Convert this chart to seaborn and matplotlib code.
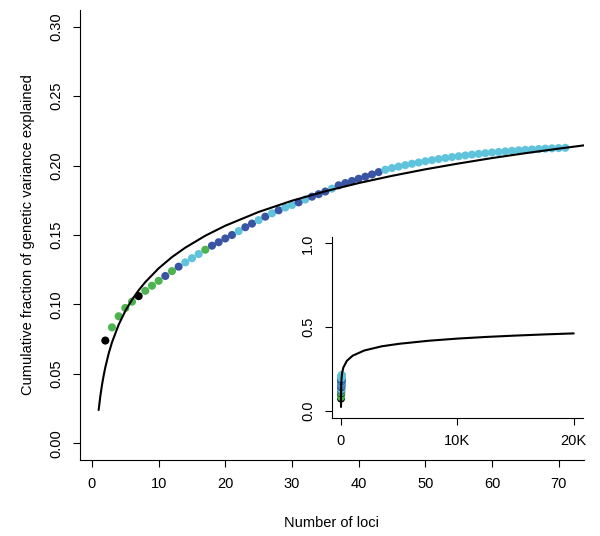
import pandas as pd
import matplotlib
matplotlib.use("Agg")
import matplotlib.pyplot as plt
import seaborn as sns

# loci ranked by effect, cumulative fraction of variance, colour group of each locus
loci = list(range(2, 72))
cum_frac = [0.0740, 0.0835, 0.0915, 0.0975, 0.1020, 0.1060, 0.1098, 0.1135, 0.1170, 0.1205,
            0.1240, 0.1272, 0.1303, 0.1333, 0.1363, 0.1394, 0.1423, 0.1448, 0.1475, 0.1500,
            0.1528, 0.1556, 0.1582, 0.1607, 0.1632, 0.1656, 0.1678, 0.1698, 0.1716, 0.1735,
            0.1756, 0.1776, 0.1794, 0.1813, 0.1834, 0.1858, 0.1874, 0.1889, 0.1905, 0.1920,
            0.1936, 0.1953, 0.1970, 0.1982, 0.1993, 0.2003, 0.2013, 0.2022, 0.2031, 0.2039,
            0.2047, 0.2054, 0.2061, 0.2067, 0.2073, 0.2079, 0.2084, 0.2089, 0.2094, 0.2098,
            0.2102, 0.2106, 0.2110, 0.2113, 0.2116, 0.2119, 0.2122, 0.2124, 0.2126, 0.2128]
groups = list("kggggkgggbgblllgbbbblbblblbllblbbblbbbbbbb"
              "llllllllllllllllllllllllllll")

# fitted curve
fit_x = [1, 1.25, 1.5, 1.75, 2, 2.5, 3, 4, 5, 6, 7, 8, 10, 12, 14, 17, 20, 25, 30, 35,
         40, 45, 50, 55, 60, 65, 70, 75]
fit_y = [0.0240, 0.0339, 0.0420, 0.0488, 0.0547, 0.0646, 0.0727, 0.0854, 0.0953, 0.1034,
         0.1102, 0.1161, 0.1260, 0.1341, 0.1409, 0.1495, 0.1567, 0.1666, 0.1747, 0.1815,
         0.1874, 0.1926, 0.1973, 0.2015, 0.2054, 0.2089, 0.2122, 0.2153]

# inset: same curve out to 20K loci
inset_x = [1, 2, 5, 10, 20, 50, 100, 200, 500, 1000, 2000, 3500, 5000, 7500, 10000,
           12500, 15000, 17500, 20000]
inset_y = [0.024, 0.055, 0.095, 0.126, 0.157, 0.197, 0.228, 0.259, 0.299, 0.330, 0.361,
           0.386, 0.401, 0.419, 0.432, 0.442, 0.450, 0.457, 0.463]

palette = {"k": "#000000", "g": "#4DB34F", "b": "#3A54A4", "l": "#5FC3DC"}

pts = pd.DataFrame({"loci": loci, "frac": cum_frac, "grp": groups})
fit = pd.DataFrame({"x": fit_x, "y": fit_y})
fit_big = pd.DataFrame({"x": inset_x, "y": inset_y})

sns.set_style("ticks")
plt.rcParams['font.family'] = ['Liberation Sans', 'DejaVu Sans']
plt.rcParams['text.color'] = 'black'
plt.rcParams['axes.labelcolor'] = 'black'
plt.rcParams['xtick.color'] = 'black'
plt.rcParams['ytick.color'] = 'black'
plt.rcParams['axes.edgecolor'] = 'black'
fs = 10.5


def style_axes(a):
    a.tick_params(direction="out", length=5, width=0.8, labelsize=fs, pad=7,
                  color="black", labelcolor="black")
    plt.setp(a.get_yticklabels(), rotation=90, va="center")
    sns.despine(ax=a)
    for s in ["left", "bottom"]:
        a.spines[s].set_linewidth(0.8)
        a.spines[s].set_color("black")


fig = plt.figure(figsize=(6, 5.36), dpi=100)
ax = fig.add_axes([0.1333, 0.1418, 0.8400, 0.8395])

sns.scatterplot(data=pts, x="loci", y="frac", hue="grp", palette=palette, s=34,
                linewidth=0, legend=False, ax=ax, zorder=2)
sns.lineplot(data=fit, x="x", y="y", color="black", linewidth=1.5, ax=ax, zorder=3)

ax.set_xlim(-1.8, 73.8)
ax.set_ylim(-0.012, 0.312)
ax.set_xticks(range(0, 71, 10))
ax.set_yticks([0, 0.05, 0.10, 0.15, 0.20, 0.25, 0.30])
ax.set_yticklabels(["0.00", "0.05", "0.10", "0.15", "0.20", "0.25", "0.30"])
style_axes(ax)
ax.set_xlabel("Number of loci", fontsize=fs, va="center")
ax.set_ylabel("Cumulative fraction of genetic variance explained", fontsize=fs, va="center")
ax.xaxis.set_label_coords(0.5, -0.14)
ax.yaxis.set_label_coords(-0.103, 0.5)

# inset
ins = fig.add_axes([0.5528, 0.2207, 0.4189, 0.3377])
sns.scatterplot(data=pts, x="loci", y="frac", hue="grp", palette=palette, s=34,
                linewidth=0, legend=False, ax=ins, zorder=2)
sns.lineplot(data=fit_big, x="x", y="y", color="black", linewidth=1.5, ax=ins, zorder=3)
ins.set_xlim(-800, 20800)
ins.set_ylim(-0.04, 1.04)
ins.set_xticks([0, 10000, 20000])
ins.set_xticklabels(["0", "10K", "20K"])
ins.set_yticks([0, 0.5, 1.0])
ins.set_yticklabels(["0.0", "0.5", "1.0"])
style_axes(ins)
ins.set_xlabel("")
ins.set_ylabel("")

fig.savefig("out.png", dpi=100)
